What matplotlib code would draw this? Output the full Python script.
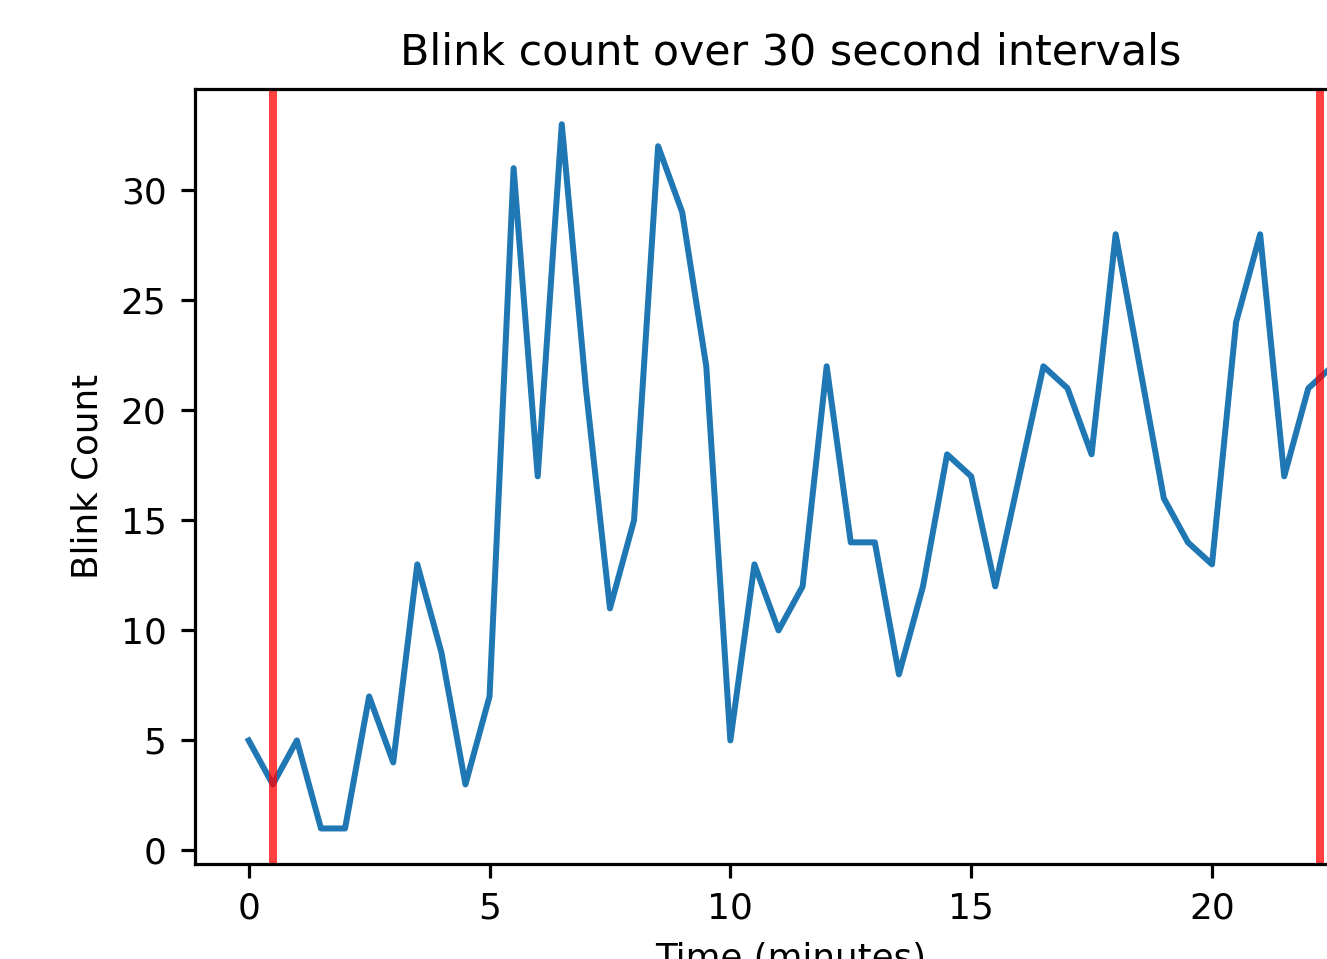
import matplotlib
matplotlib.use("Agg")
import matplotlib.pyplot as plt

# blink counts per 30 second interval
minutes = [0, 0.5, 1, 1.5, 2, 2.5, 3, 3.5, 4, 4.5,
           5, 5.5, 6, 6.5, 7, 7.5, 8, 8.5, 9, 9.5,
           10, 10.5, 11, 11.5, 12, 12.5, 13, 13.5, 14, 14.5,
           15, 15.5, 16, 16.5, 17, 17.5, 18, 18.5, 19, 19.5,
           20, 20.5, 21, 21.5, 22, 22.5]
blinks = [5, 3, 5, 1, 1, 7, 4, 13, 9, 3,
          7, 31, 17, 33, 21, 11, 15, 32, 29, 22,
          5, 13, 10, 12, 22, 14, 14, 8, 12, 18,
          17, 12, 17, 22, 21, 18, 28, 22, 16, 14,
          13, 24, 28, 17, 21, 22]

# start / end markers
markers = [0.5, 22.25]

fig = plt.figure(figsize=(1327 / 288, 959 / 288), dpi=288)
ax = fig.add_axes([0.1466, 0.0994, 0.8983, 0.8078])

ax.plot(minutes, blinks)
for m in markers:
    ax.axvline(m, color='red', linewidth=2, alpha=0.75)

ax.set_title('Blink count over 30 second intervals', fontsize=10.7)
ax.set_xlabel('Time (minutes)', fontsize=8.9)
ax.set_ylabel('Blink Count', fontsize=8.9)
ax.tick_params(labelsize=9)

fig.savefig('out.png', dpi=288)
